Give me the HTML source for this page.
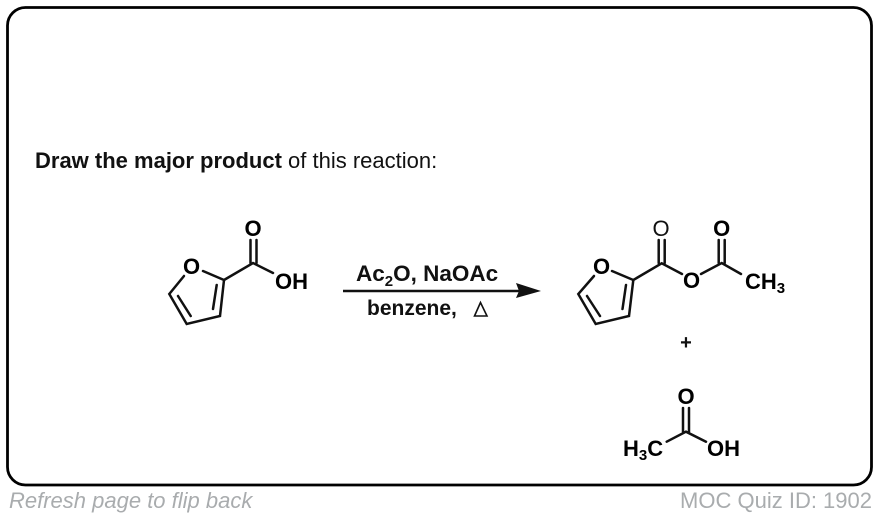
<!DOCTYPE html>
<html><head><meta charset="utf-8"><style>
html,body{margin:0;padding:0;background:#fff;width:878px;height:518px;overflow:hidden}
svg{display:block}
text{font-family:"Liberation Sans",Arial,sans-serif}
.b{font-weight:bold;font-size:22px;fill:#000}
.l{stroke:#111;stroke-width:2.5;fill:none;stroke-linecap:round}
</style></head><body>
<svg width="878" height="518" viewBox="0 0 878 518" xmlns="http://www.w3.org/2000/svg">
<rect x="7.5" y="7.5" width="864" height="477.5" rx="18" fill="#fff" stroke="#000" stroke-width="2.8"/>
<text x="35" y="168" font-size="22" fill="#111"><tspan font-weight="bold">Draw the major product</tspan> of this reaction:</text>

<!-- reactant -->
<path class="l" d="M184 276L169.3 294L186.7 324L220 316L224 280L203 271"/>
<path class="l" d="M178 296L190.7 316M216.7 285L213 309"/>
<path class="l" d="M224 280L253 263L273 273M250.5 240V263M256.5 240V263"/>
<text class="b" x="191.5" y="274" text-anchor="middle">O</text>
<text class="b" x="253" y="236" text-anchor="middle">O</text>
<text class="b" x="275" y="289">OH</text>

<!-- arrow -->
<path d="M343 291H520" stroke="#111" stroke-width="2.5"/>
<path d="M516 283L541 291L516 298L519 291Z" fill="#111"/>
<text x="356" y="281" font-size="22.5" font-weight="bold" fill="#111">Ac<tspan font-size="15" dy="5">2</tspan><tspan dy="-5">O, NaOAc</tspan></text>
<text x="367" y="315" font-size="21" font-weight="bold" fill="#111">benzene,</text>
<path d="M480.5 302.5L474.5 316H487Z" fill="none" stroke="#111" stroke-width="1.6"/>

<!-- product -->
<path class="l" d="M594 276L578.3 294L595.7 324L629 316L633.3 280L612 271"/>
<path class="l" d="M587 296L600 316M626 285L622.5 309"/>
<path class="l" d="M633.3 280L661.7 263.3L682 274M701 274L721.7 263L741 274M658.7 240V263M664.7 240V263M718.7 240V263M724.7 240V263"/>
<text class="b" x="601.5" y="274" text-anchor="middle">O</text>
<text x="661" y="236" font-size="22" text-anchor="middle" fill="#111">O</text>
<text class="b" x="691.5" y="288" text-anchor="middle">O</text>
<text class="b" x="721.7" y="236" text-anchor="middle">O</text>
<text class="b" x="745" y="289">CH<tspan font-size="15" dy="4">3</tspan></text>
<text x="686" y="349" font-size="20" font-weight="bold" text-anchor="middle" fill="#111">+</text>

<!-- acetic acid -->
<path class="l" d="M666.7 441.7L686 431.7L706 441.7M683 408V431.7M689 408V431.7"/>
<text class="b" x="686" y="404" text-anchor="middle">O</text>
<text class="b" x="623" y="456">H<tspan font-size="15" dy="4">3</tspan><tspan dy="-4">C</tspan></text>
<text class="b" x="707" y="456">OH</text>

<!-- footer -->
<text x="9" y="508" font-size="22" font-style="italic" fill="#a9acae">Refresh page to flip back</text>
<text x="872" y="508" font-size="22" text-anchor="end" fill="#a9acae">MOC Quiz ID: 1902</text>
</svg>
</body></html>
